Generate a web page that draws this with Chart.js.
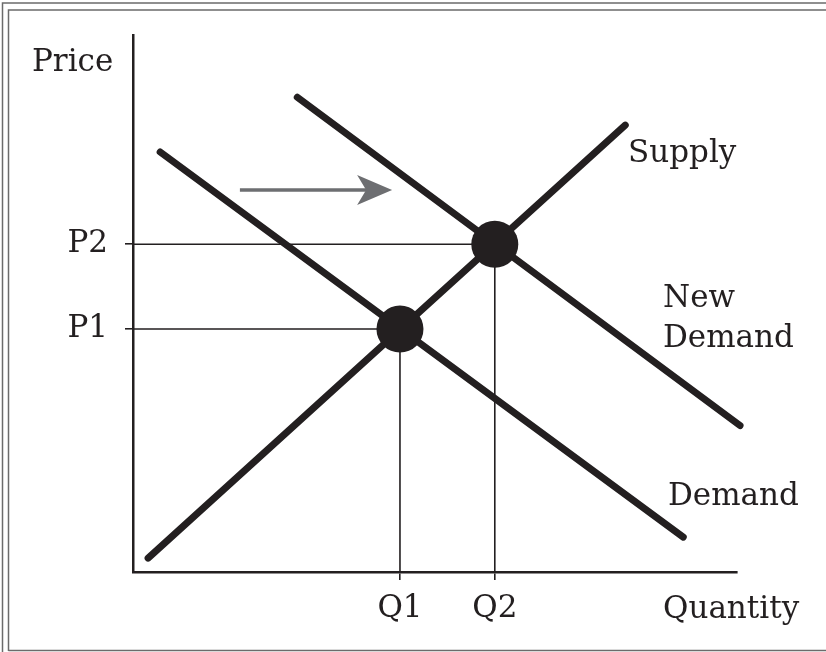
<!DOCTYPE html>
<html>
<head>
<meta charset="utf-8">
<title>Supply and Demand</title>
<script src="https://cdn.jsdelivr.net/npm/chart.js@4.4.1/dist/chart.umd.min.js"></script>
<style>
  html, body { margin: 0; padding: 0; background: #fff; }
  #wrap { width: 826px; height: 652px; }
</style>
</head>
<body>
<div id="wrap"><canvas id="marketChart" width="826" height="652"></canvas></div>
<script>
// axis marks (equilibrium prices / quantities)
const priceTicks = [45.3, 61.1];
const priceLabels = ['P1', 'P2'];
const qtyTicks = [44.2, 59.9];
const qtyLabels = ['Q1', 'Q2'];

// curves, start and end points
const supplyX = [2.5, 81.5];
const supplyY = [2.6, 83.3];
const demandX = [4.5, 91.1];
const demandY = [78.3, 6.5];
const newDemandX = [27.2, 100.5];
const newDemandY = [88.5, 27.3];

// demand shift arrow
const arrowX = [17.7, 42.9];
const arrowY = [71.2, 71.2];

const INK = '#231f20';
const FONT = '"DejaVu Serif", serif';

const toPoints = (xs, ys) => xs.map((x, i) => ({ x: x, y: ys[i] }));

function curve(label, xs, ys) {
    return {
        label: label,
        data: toPoints(xs, ys),
        borderColor: INK,
        borderWidth: 7,
        borderCapStyle: 'round',
        pointRadius: 0,
        clip: false,
        order: 2
    };
}

// thin guide from the price axis to the dot and down to the quantity axis
const guides = qtyTicks.map((q, i) => ({
    label: 'guide ' + (i + 1),
    data: [{ x: 0, y: priceTicks[i] }, { x: q, y: priceTicks[i] }, { x: q, y: 0 }],
    borderColor: INK,
    borderWidth: 1.6,
    pointRadius: 0,
    clip: false,
    order: 3
}));

const decorations = {
    id: 'decorations',
    beforeDraw(chart) {
        // double frame round the picture
        const c = chart.ctx;
        c.save();
        c.strokeStyle = '#6b6b6b';
        c.lineWidth = 1.5;
        c.beginPath();
        c.moveTo(2.5, 652); c.lineTo(2.5, 3); c.lineTo(826, 3);
        c.moveTo(8.5, 651); c.lineTo(8.5, 10); c.lineTo(826, 10);
        c.moveTo(8.5, 650.5); c.lineTo(826, 650.5);
        c.stroke();
        c.restore();
    },
    afterDatasetsDraw(chart) {
        const c = chart.ctx;
        const xs = chart.scales.x, ys = chart.scales.y;
        const x1 = xs.getPixelForValue(arrowX[0]);
        const x2 = xs.getPixelForValue(arrowX[1]);
        const y = ys.getPixelForValue(arrowY[0]);
        c.save();
        c.strokeStyle = '#6d6e71';
        c.fillStyle = '#6d6e71';
        c.lineWidth = 3.5;
        c.beginPath();
        c.moveTo(x1, y); c.lineTo(x2 - 20, y);
        c.stroke();
        c.beginPath();
        c.moveTo(x2, y);
        c.lineTo(x2 - 35, y - 15);
        c.lineTo(x2 - 26, y);
        c.lineTo(x2 - 35, y + 15);
        c.closePath();
        c.fill();
        c.restore();
    },
    afterDraw(chart) {
        const c = chart.ctx;
        c.save();
        c.fillStyle = INK;
        c.font = '31px ' + FONT;
        c.textAlign = 'left';
        c.textBaseline = 'alphabetic';
        c.fillText('Price', 32, 71);
        c.fillText('Supply', 628, 162);
        c.fillText('New', 663, 307);
        c.fillText('Demand', 663, 347);
        c.fillText('Demand', 668, 505);
        c.fillText('Quantity', 663, 618);
        c.restore();
    }
};

const ctx = document.getElementById('marketChart').getContext('2d');
const marketChart = new Chart(ctx, {
    type: 'line',
    data: {
        datasets: [
            {
                label: 'Equilibrium',
                data: toPoints(qtyTicks, priceTicks),
                showLine: false,
                pointRadius: 23.5,
                pointBackgroundColor: INK,
                pointBorderWidth: 0,
                clip: false,
                order: 0
            },
            curve('Supply', supplyX, supplyY),
            curve('Demand', demandX, demandY),
            curve('New Demand', newDemandX, newDemandY),
            ...guides
        ]
    },
    options: {
        responsive: false,
        animation: false,
        devicePixelRatio: 1,
        layout: { padding: { top: 33, right: 89, left: 0, bottom: 0 } },
        scales: {
            x: {
                type: 'linear',
                min: 0,
                max: 100,
                afterFit: (scale) => { scale.height = 80; },
                afterBuildTicks: (scale) => { scale.ticks = qtyTicks.map(v => ({ value: v })); },
                border: { display: true, color: INK, width: 2.5 },
                grid: { drawOnChartArea: false, drawTicks: true, tickLength: 8, color: INK, lineWidth: 1.6 },
                ticks: {
                    callback: (v, i) => qtyLabels[i],
                    font: { family: FONT, size: 31 },
                    color: INK,
                    padding: 10,
                    maxRotation: 0,
                    autoSkip: false
                }
            },
            y: {
                type: 'linear',
                min: 0,
                max: 100,
                afterFit: (scale) => { scale.width = 133; },
                afterBuildTicks: (scale) => { scale.ticks = priceTicks.map(v => ({ value: v })); },
                border: { display: true, color: INK, width: 2.5 },
                grid: { drawOnChartArea: false, drawTicks: true, tickLength: 8, color: INK, lineWidth: 1.6 },
                ticks: {
                    callback: (v, i) => priceLabels[i],
                    font: { family: FONT, size: 31 },
                    color: INK,
                    padding: 17,
                    autoSkip: false
                }
            }
        },
        plugins: {
            legend: { display: false },
            tooltip: { enabled: false }
        }
    },
    plugins: [decorations]
});
</script>
</body>
</html>
